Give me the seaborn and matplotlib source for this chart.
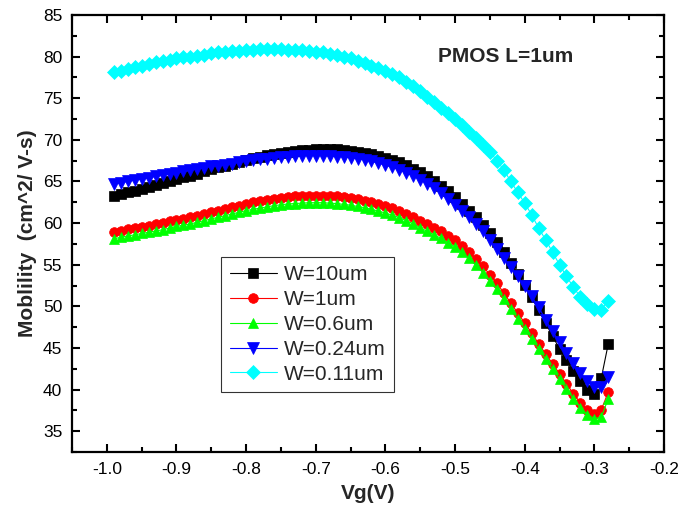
import numpy as np
import pandas as pd
import matplotlib
matplotlib.use("Agg")
import matplotlib.pyplot as plt
import seaborn as sns
from matplotlib.ticker import MultipleLocator

vg = [-0.99, -0.98, -0.97, -0.96, -0.95, -0.94, -0.93, -0.92, -0.91, -0.90,
      -0.89, -0.88, -0.87, -0.86, -0.85, -0.84, -0.83, -0.82, -0.81, -0.80,
      -0.79, -0.78, -0.77, -0.76, -0.75, -0.74, -0.73, -0.72, -0.71, -0.70,
      -0.69, -0.68, -0.67, -0.66, -0.65, -0.64, -0.63, -0.62, -0.61, -0.60,
      -0.59, -0.58, -0.57, -0.56, -0.55, -0.54, -0.53, -0.52, -0.51, -0.50,
      -0.49, -0.48, -0.47, -0.46, -0.45, -0.44, -0.43, -0.42, -0.41, -0.40,
      -0.39, -0.38, -0.37, -0.36, -0.35, -0.34, -0.33, -0.32, -0.31, -0.30,
      -0.29, -0.28]

w10 = [63.3, 63.5, 63.7, 63.9, 64.1, 64.35, 64.6, 64.85, 65.1, 65.3,
       65.5, 65.7, 65.95, 66.2, 66.45, 66.7, 66.9, 67.1, 67.35, 67.6,
       67.8, 68.0, 68.15, 68.3, 68.45, 68.55, 68.65, 68.75, 68.8, 68.85,
       68.9, 68.9, 68.85, 68.8, 68.7, 68.6, 68.45, 68.3, 68.1, 67.85,
       67.6, 67.3, 66.95, 66.55, 66.1, 65.6, 65.05, 64.5, 63.8, 63.1,
       62.3, 61.5, 60.7, 59.8, 58.8, 57.7, 56.5, 55.2, 53.9, 52.6,
       51.1, 49.6, 48.0, 46.4, 44.9, 43.5, 42.2, 41.0, 40.0, 39.5,
       41.4, 45.5]

w1 = [58.9, 59.1, 59.25, 59.4, 59.55, 59.7, 59.85, 60.0, 60.2, 60.4,
      60.55, 60.7, 60.9, 61.1, 61.3, 61.5, 61.7, 61.9, 62.1, 62.3,
      62.5, 62.65, 62.8, 62.95, 63.05, 63.15, 63.2, 63.25, 63.3, 63.3,
      63.3, 63.25, 63.2, 63.1, 63.0, 62.85, 62.7, 62.5, 62.3, 62.05,
      61.8, 61.5, 61.15, 60.75, 60.3, 59.85, 59.45, 59.0, 58.5, 58.0,
      57.3, 56.5, 55.7, 54.8, 53.8, 52.8, 51.6, 50.4, 49.2, 48.0,
      46.8, 45.5, 44.3, 43.1, 41.9, 40.7, 39.5, 38.4, 37.6, 37.1,
      37.6, 39.7]

w06 = [58.1, 58.3, 58.45, 58.6, 58.75, 58.9, 59.05, 59.2, 59.4, 59.6,
       59.75, 59.9, 60.1, 60.3, 60.5, 60.7, 60.9, 61.1, 61.3, 61.5,
       61.65, 61.8, 61.95, 62.1, 62.2, 62.3, 62.35, 62.4, 62.45, 62.45,
       62.45, 62.4, 62.35, 62.25, 62.15, 62.0, 61.85, 61.65, 61.45, 61.2,
       60.95, 60.65, 60.3, 59.9, 59.45, 59.0, 58.6, 58.15, 57.65, 57.15,
       56.5, 55.75, 54.95, 54.05, 53.05, 52.05, 50.9, 49.7, 48.5, 47.3,
       46.1, 44.85, 43.65, 42.45, 41.25, 40.05, 38.9, 37.8, 37.0, 36.5,
       36.7, 38.9]

w024 = [64.7, 64.85, 65.0, 65.15, 65.3, 65.45, 65.6, 65.75, 65.9, 66.05,
        66.2, 66.35, 66.5, 66.65, 66.8, 66.9, 67.0, 67.15, 67.3, 67.4,
        67.55, 67.65, 67.75, 67.85, 67.95, 68.0, 68.05, 68.1, 68.1, 68.1,
        68.1, 68.05, 68.0, 67.95, 67.85, 67.75, 67.6, 67.4, 67.2, 66.95,
        66.7, 66.4, 66.05, 65.65, 65.2, 64.7, 64.2, 63.6, 62.9, 62.2,
        61.5, 60.7, 59.9, 59.0, 58.0, 56.9, 55.8, 54.7, 53.6, 52.4,
        51.2, 49.9, 48.4, 47.0, 45.7, 44.4, 43.2, 42.0, 41.0, 40.3,
        40.3, 41.5]

w011 = [78.1, 78.3, 78.5, 78.7, 78.9, 79.1, 79.3, 79.5, 79.65, 79.8,
        79.9, 80.0, 80.1, 80.25, 80.4, 80.5, 80.6, 80.65, 80.7, 80.8,
        80.85, 80.9, 80.9, 80.9, 80.9, 80.85, 80.8, 80.75, 80.7, 80.6,
        80.5, 80.35, 80.2, 80.0, 79.8, 79.5, 79.2, 78.9, 78.6, 78.3,
        77.9, 77.5, 77.0, 76.5, 75.9, 75.2, 74.5, 73.8, 73.2, 72.5,
        71.8, 71.0, 70.2, 69.4, 68.6, 67.5, 66.4, 65.0, 63.7, 62.4,
        61.0, 59.4, 58.0, 56.5, 55.0, 53.6, 52.3, 51.1, 50.3, 49.7,
        49.6, 50.7]

labels = ["W=10um", "W=1um", "W=0.6um", "W=0.24um", "W=0.11um"]
series = [w10, w1, w06, w024, w011]
colors = ["#000000", "#ff0000", "#00ff00", "#0000ff", "#00ffff"]
markers = ["s", "o", "^", "v", "D"]
msizes = [6.5, 7, 7.5, 8, 7.5]

sns.set_theme(style="ticks")
plt.rcParams["font.family"] = ["Liberation Sans", "DejaVu Sans"]

fig = plt.figure(figsize=(6.8, 5.19), dpi=100)
ax = fig.add_axes([72 / 680, 67 / 519, 592 / 680, 437 / 519])

for lab, ys, c, m, ms in zip(labels, series, colors, markers, msizes):
    df = pd.DataFrame({"Vg": vg, "mu": ys})
    sns.lineplot(data=df, x="Vg", y="mu", ax=ax, color=c, marker=m,
                 markersize=ms, markeredgecolor=c, markeredgewidth=0.5,
                 linewidth=0.8, label=lab)

ax.set_xlim(-1.05, -0.2)
ax.set_ylim(32.5, 85)
xt = [-1.0, -0.9, -0.8, -0.7, -0.6, -0.5, -0.4, -0.3, -0.2]
ax.set_xticks(xt)
ax.set_xticklabels([f"{v:.1f}" for v in xt])
ax.xaxis.set_minor_locator(MultipleLocator(0.05))
ax.yaxis.set_major_locator(MultipleLocator(5))
ax.yaxis.set_minor_locator(MultipleLocator(2.5))
ax.tick_params(which="both", direction="in", top=True, right=True,
               width=1.5, labelsize=12.5, color="black", labelcolor="black")
ax.tick_params(which="major", length=6, pad=7)
ax.tick_params(which="minor", length=3.5)
for s in ax.spines.values():
    s.set_linewidth(1.6)
    s.set_color("black")

ax.set_xlabel("Vg(V)", fontsize=15, fontweight="bold", labelpad=5)
ax.set_ylabel("Moblility  (cm^2/ V-s)", fontsize=15, fontweight="bold", labelpad=4)
ax.text(0.732, 0.904, "PMOS L=1um", transform=ax.transAxes, fontsize=15,
        fontweight="bold", ha="center", va="center")

leg = ax.legend(loc="upper left", bbox_to_anchor=(0.252, 0.446), fontsize=15,
                frameon=True, fancybox=False, edgecolor="black",
                handlelength=2.3, borderpad=0.4, labelspacing=0.28,
                handletextpad=0.3, borderaxespad=0)
leg.get_frame().set_linewidth(0.8)
for line in leg.get_lines():
    line.set_linewidth(0.8)

fig.savefig("out.png", dpi=100)
